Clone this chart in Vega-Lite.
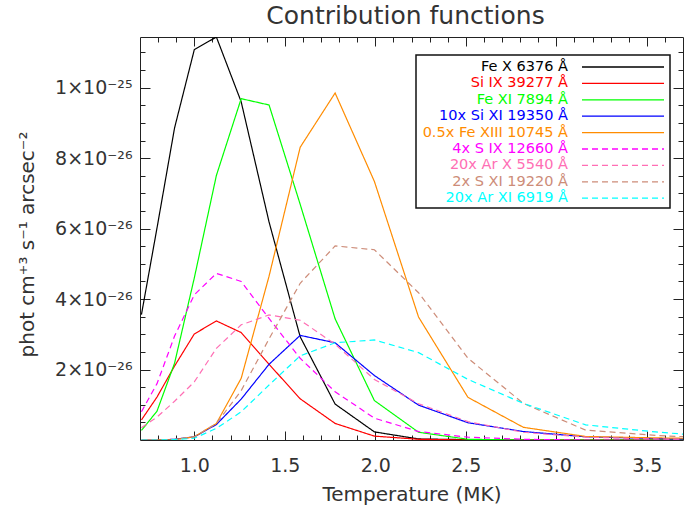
{
  "$schema": "https://vega.github.io/schema/vega-lite/v6.json",
  "autosize": "none",
  "width": 543,
  "height": 403,
  "padding": {"left": 140, "top": 37, "right": 1, "bottom": 68},
  "background": "white",
  "title": {"text": "Contribution functions", "font": "DejaVu Sans", "fontSize": 25, "fontWeight": "normal", "color": "#333", "offset": 8, "dx": -6},
  "config": {
    "view": {"stroke": "#222", "strokeWidth": 1},
    "axis": {"grid": false, "domain": false, "labelFont": "DejaVu Sans", "titleFont": "DejaVu Sans", "labelColor": "#333", "titleColor": "#333", "tickColor": "#222", "titleFontWeight": "normal", "tickWidth": 1},
    "legend": {"strokeWidth": 1.5}
  },
  "data": {"values": [
    {"s":"Fe X 6376 Å","T":0.708,"v":3.56e-26},{"s":"Fe X 6376 Å","T":0.794,"v":6.02e-26},{"s":"Fe X 6376 Å","T":0.891,"v":8.86e-26},{"s":"Fe X 6376 Å","T":1.0,"v":11.08e-26},{"s":"Fe X 6376 Å","T":1.122,"v":11.44e-26},{"s":"Fe X 6376 Å","T":1.259,"v":9.6e-26},{"s":"Fe X 6376 Å","T":1.413,"v":6.19e-26},{"s":"Fe X 6376 Å","T":1.585,"v":2.93e-26},{"s":"Fe X 6376 Å","T":1.778,"v":1.02e-26},{"s":"Fe X 6376 Å","T":1.995,"v":0.23e-26},{"s":"Fe X 6376 Å","T":2.239,"v":0.03e-26},{"s":"Fe X 6376 Å","T":2.512,"v":0.01e-26},{"s":"Fe X 6376 Å","T":2.818,"v":0},{"s":"Fe X 6376 Å","T":3.162,"v":0},{"s":"Fe X 6376 Å","T":3.548,"v":0},{"s":"Fe X 6376 Å","T":3.981,"v":0},
    {"s":"Si IX 39277 Å","T":0.708,"v":0.57e-26},{"s":"Si IX 39277 Å","T":0.794,"v":1.22e-26},{"s":"Si IX 39277 Å","T":0.891,"v":2.1e-26},{"s":"Si IX 39277 Å","T":1.0,"v":3.01e-26},{"s":"Si IX 39277 Å","T":1.122,"v":3.38e-26},{"s":"Si IX 39277 Å","T":1.259,"v":3.05e-26},{"s":"Si IX 39277 Å","T":1.413,"v":2.15e-26},{"s":"Si IX 39277 Å","T":1.585,"v":1.17e-26},{"s":"Si IX 39277 Å","T":1.778,"v":0.47e-26},{"s":"Si IX 39277 Å","T":1.995,"v":0.11e-26},{"s":"Si IX 39277 Å","T":2.239,"v":0.02e-26},{"s":"Si IX 39277 Å","T":2.512,"v":0},{"s":"Si IX 39277 Å","T":2.818,"v":0},{"s":"Si IX 39277 Å","T":3.162,"v":0},{"s":"Si IX 39277 Å","T":3.548,"v":0},{"s":"Si IX 39277 Å","T":3.981,"v":0},
    {"s":"Fe XI 7894 Å","T":0.708,"v":0.27e-26},{"s":"Fe XI 7894 Å","T":0.794,"v":0.82e-26},{"s":"Fe XI 7894 Å","T":0.891,"v":2.18e-26},{"s":"Fe XI 7894 Å","T":1.0,"v":4.6e-26},{"s":"Fe XI 7894 Å","T":1.122,"v":7.51e-26},{"s":"Fe XI 7894 Å","T":1.259,"v":9.69e-26},{"s":"Fe XI 7894 Å","T":1.413,"v":9.51e-26},{"s":"Fe XI 7894 Å","T":1.585,"v":6.69e-26},{"s":"Fe XI 7894 Å","T":1.778,"v":3.44e-26},{"s":"Fe XI 7894 Å","T":1.995,"v":1.12e-26},{"s":"Fe XI 7894 Å","T":2.239,"v":0.22e-26},{"s":"Fe XI 7894 Å","T":2.512,"v":0.02e-26},{"s":"Fe XI 7894 Å","T":2.818,"v":0},{"s":"Fe XI 7894 Å","T":3.162,"v":0},{"s":"Fe XI 7894 Å","T":3.548,"v":0},{"s":"Fe XI 7894 Å","T":3.981,"v":0},
    {"s":"10x Si XI 19350 Å","T":0.708,"v":0},{"s":"10x Si XI 19350 Å","T":0.794,"v":0},{"s":"10x Si XI 19350 Å","T":0.891,"v":0.02e-26},{"s":"10x Si XI 19350 Å","T":1.0,"v":0.09e-26},{"s":"10x Si XI 19350 Å","T":1.122,"v":0.44e-26},{"s":"10x Si XI 19350 Å","T":1.259,"v":1.16e-26},{"s":"10x Si XI 19350 Å","T":1.413,"v":2.15e-26},{"s":"10x Si XI 19350 Å","T":1.585,"v":2.97e-26},{"s":"10x Si XI 19350 Å","T":1.778,"v":2.76e-26},{"s":"10x Si XI 19350 Å","T":1.995,"v":1.83e-26},{"s":"10x Si XI 19350 Å","T":2.239,"v":0.99e-26},{"s":"10x Si XI 19350 Å","T":2.512,"v":0.49e-26},{"s":"10x Si XI 19350 Å","T":2.818,"v":0.24e-26},{"s":"10x Si XI 19350 Å","T":3.162,"v":0.09e-26},{"s":"10x Si XI 19350 Å","T":3.548,"v":0.04e-26},{"s":"10x Si XI 19350 Å","T":3.981,"v":0.01e-26},
    {"s":"0.5x Fe XIII 10745 Å","T":0.708,"v":0},{"s":"0.5x Fe XIII 10745 Å","T":0.794,"v":0},{"s":"0.5x Fe XIII 10745 Å","T":0.891,"v":0.01e-26},{"s":"0.5x Fe XIII 10745 Å","T":1.0,"v":0.09e-26},{"s":"0.5x Fe XIII 10745 Å","T":1.122,"v":0.47e-26},{"s":"0.5x Fe XIII 10745 Å","T":1.259,"v":1.75e-26},{"s":"0.5x Fe XIII 10745 Å","T":1.413,"v":4.65e-26},{"s":"0.5x Fe XIII 10745 Å","T":1.585,"v":8.31e-26},{"s":"0.5x Fe XIII 10745 Å","T":1.778,"v":9.85e-26},{"s":"0.5x Fe XIII 10745 Å","T":1.995,"v":7.34e-26},{"s":"0.5x Fe XIII 10745 Å","T":2.239,"v":3.49e-26},{"s":"0.5x Fe XIII 10745 Å","T":2.512,"v":1.21e-26},{"s":"0.5x Fe XIII 10745 Å","T":2.818,"v":0.36e-26},{"s":"0.5x Fe XIII 10745 Å","T":3.162,"v":0.1e-26},{"s":"0.5x Fe XIII 10745 Å","T":3.548,"v":0.06e-26},{"s":"0.5x Fe XIII 10745 Å","T":3.981,"v":0.03e-26},
    {"s":"4x S IX 12660 Å","T":0.708,"v":0.8e-26},{"s":"4x S IX 12660 Å","T":0.794,"v":1.6e-26},{"s":"4x S IX 12660 Å","T":0.891,"v":2.95e-26},{"s":"4x S IX 12660 Å","T":1.0,"v":4.12e-26},{"s":"4x S IX 12660 Å","T":1.122,"v":4.73e-26},{"s":"4x S IX 12660 Å","T":1.259,"v":4.5e-26},{"s":"4x S IX 12660 Å","T":1.413,"v":3.45e-26},{"s":"4x S IX 12660 Å","T":1.585,"v":2.32e-26},{"s":"4x S IX 12660 Å","T":1.778,"v":1.37e-26},{"s":"4x S IX 12660 Å","T":1.995,"v":0.62e-26},{"s":"4x S IX 12660 Å","T":2.239,"v":0.24e-26},{"s":"4x S IX 12660 Å","T":2.512,"v":0.08e-26},{"s":"4x S IX 12660 Å","T":2.818,"v":0.02e-26},{"s":"4x S IX 12660 Å","T":3.162,"v":0},{"s":"4x S IX 12660 Å","T":3.548,"v":0},{"s":"4x S IX 12660 Å","T":3.981,"v":0},
    {"s":"20x Ar X 5540 Å","T":0.708,"v":0.35e-26},{"s":"20x Ar X 5540 Å","T":0.794,"v":0.65e-26},{"s":"20x Ar X 5540 Å","T":0.891,"v":1.1e-26},{"s":"20x Ar X 5540 Å","T":1.0,"v":1.65e-26},{"s":"20x Ar X 5540 Å","T":1.122,"v":2.6e-26},{"s":"20x Ar X 5540 Å","T":1.259,"v":3.27e-26},{"s":"20x Ar X 5540 Å","T":1.413,"v":3.55e-26},{"s":"20x Ar X 5540 Å","T":1.585,"v":3.4e-26},{"s":"20x Ar X 5540 Å","T":1.778,"v":2.72e-26},{"s":"20x Ar X 5540 Å","T":1.995,"v":1.72e-26},{"s":"20x Ar X 5540 Å","T":2.239,"v":1.03e-26},{"s":"20x Ar X 5540 Å","T":2.512,"v":0.52e-26},{"s":"20x Ar X 5540 Å","T":2.818,"v":0.22e-26},{"s":"20x Ar X 5540 Å","T":3.162,"v":0.08e-26},{"s":"20x Ar X 5540 Å","T":3.548,"v":0.03e-26},{"s":"20x Ar X 5540 Å","T":3.981,"v":0.01e-26},
    {"s":"2x S XI 19220 Å","T":0.708,"v":0},{"s":"2x S XI 19220 Å","T":0.794,"v":0},{"s":"2x S XI 19220 Å","T":0.891,"v":0.02e-26},{"s":"2x S XI 19220 Å","T":1.0,"v":0.09e-26},{"s":"2x S XI 19220 Å","T":1.122,"v":0.47e-26},{"s":"2x S XI 19220 Å","T":1.259,"v":1.4e-26},{"s":"2x S XI 19220 Å","T":1.413,"v":2.87e-26},{"s":"2x S XI 19220 Å","T":1.585,"v":4.45e-26},{"s":"2x S XI 19220 Å","T":1.778,"v":5.51e-26},{"s":"2x S XI 19220 Å","T":1.995,"v":5.4e-26},{"s":"2x S XI 19220 Å","T":2.239,"v":4.18e-26},{"s":"2x S XI 19220 Å","T":2.512,"v":2.32e-26},{"s":"2x S XI 19220 Å","T":2.818,"v":1.04e-26},{"s":"2x S XI 19220 Å","T":3.162,"v":0.28e-26},{"s":"2x S XI 19220 Å","T":3.548,"v":0.13e-26},{"s":"2x S XI 19220 Å","T":3.981,"v":0.03e-26},
    {"s":"20x Ar XI 6919 Å","T":0.708,"v":0},{"s":"20x Ar XI 6919 Å","T":0.794,"v":0},{"s":"20x Ar XI 6919 Å","T":0.891,"v":0.01e-26},{"s":"20x Ar XI 6919 Å","T":1.0,"v":0.05e-26},{"s":"20x Ar XI 6919 Å","T":1.122,"v":0.33e-26},{"s":"20x Ar XI 6919 Å","T":1.259,"v":0.8e-26},{"s":"20x Ar XI 6919 Å","T":1.413,"v":1.56e-26},{"s":"20x Ar XI 6919 Å","T":1.585,"v":2.39e-26},{"s":"20x Ar XI 6919 Å","T":1.778,"v":2.76e-26},{"s":"20x Ar XI 6919 Å","T":1.995,"v":2.84e-26},{"s":"20x Ar XI 6919 Å","T":2.239,"v":2.48e-26},{"s":"20x Ar XI 6919 Å","T":2.512,"v":1.72e-26},{"s":"20x Ar XI 6919 Å","T":2.818,"v":1.04e-26},{"s":"20x Ar XI 6919 Å","T":3.162,"v":0.43e-26},{"s":"20x Ar XI 6919 Å","T":3.548,"v":0.23e-26},{"s":"20x Ar XI 6919 Å","T":3.981,"v":0.05e-26}
  ]},
  "resolve": {"axis": {"x": "independent", "y": "independent"}},
  "layer": [
    {
      "mark": {"type": "line", "clip": true, "strokeWidth": 1.2},
      "encoding": {
        "x": {"field": "T", "type": "quantitative", "scale": {"domain": [0.7, 3.7], "nice": false, "zero": false},
          "axis": {"orient": "bottom", "values": [1, 1.5, 2, 2.5, 3, 3.5], "format": ".1f", "ticks": false, "tickSize": 0, "labelPadding": 16, "labelFontSize": 19, "labelFlush": false, "title": "Temperature (MK)", "titleFontSize": 20, "titleBaseline": "alphabetic", "titleY": 60}},
        "y": {"field": "v", "type": "quantitative", "scale": {"domain": [0, 1.144e-25], "nice": false, "zero": false},
          "axis": {"orient": "left", "values": [2e-26, 4e-26, 6e-26, 8e-26, 1e-25], "labelExpr": "datum.value > 9e-26 ? '1×10⁻²⁵' : format(datum.value * 1e26, 'd') + '×10⁻²⁶'", "ticks": false, "tickSize": 0, "labelPadding": 8, "labelFontSize": 19, "labelFlush": false, "title": "phot cm⁺³ s⁻¹ arcsec⁻²", "titleFontSize": 20, "titleBaseline": "alphabetic", "titleX": -107, "titleY": 207}},
        "color": {"field": "s", "type": "nominal",
          "scale": {"domain": ["Fe X 6376 Å", "Si IX 39277 Å", "Fe XI 7894 Å", "10x Si XI 19350 Å", "0.5x Fe XIII 10745 Å", "4x S IX 12660 Å", "20x Ar X 5540 Å", "2x S XI 19220 Å", "20x Ar XI 6919 Å"],
            "range": ["#000000", "#FF0000", "#00FF00", "#0000FF", "#FF8C00", "#FF00FF", "#FF6EB4", "#CD8C78", "#00FFFF"]},
          "legend": {"orient": "none", "legendX": 276, "legendY": 18, "title": null, "direction": "vertical",
            "symbolType": "M -5.125 0 L 5.125 0", "symbolSize": 256, "symbolStrokeWidth": 1.3, "symbolOffset": 195,
            "labelOffset": -64, "labelAlign": "right", "labelFont": "DejaVu Sans", "labelFontSize": 14.5, "labelLimit": 400,
            "rowPadding": 0.4, "padding": 3, "strokeColor": "#111", "fillColor": "white",
            "encode": {"labels": {"update": {"fill": {"scale": "color", "field": "value"}}}}}},
        "strokeDash": {"field": "s", "type": "nominal",
          "scale": {"domain": ["Fe X 6376 Å", "Si IX 39277 Å", "Fe XI 7894 Å", "10x Si XI 19350 Å", "0.5x Fe XIII 10745 Å", "4x S IX 12660 Å", "20x Ar X 5540 Å", "2x S XI 19220 Å", "20x Ar XI 6919 Å"],
            "range": [[1, 0], [1, 0], [1, 0], [1, 0], [1, 0], [6, 4], [6, 4], [6, 4], [6, 4]]}}
      }
    },
    {
      "data": {"values": []},
      "mark": "point",
      "encoding": {
        "x": {"field": "T", "type": "quantitative", "scale": {"domain": [0.7, 3.7], "nice": false, "zero": false},
          "axis": {"orient": "bottom", "values": [1, 1.5, 2, 2.5, 3, 3.5], "labels": false, "tickSize": -9, "title": null}},
        "y": {"field": "v", "type": "quantitative", "scale": {"domain": [0, 1.144e-25], "nice": false, "zero": false},
          "axis": {"orient": "left", "values": [2e-26, 4e-26, 6e-26, 8e-26, 1e-25], "labels": false, "tickSize": -10, "title": null}}
      }
    },
    {
      "data": {"values": []},
      "mark": "point",
      "encoding": {
        "x": {"field": "T", "type": "quantitative", "scale": {"domain": [0.7, 3.7], "nice": false, "zero": false},
          "axis": {"orient": "bottom", "values": [0.8, 0.9, 1.1, 1.2, 1.3, 1.4, 1.6, 1.7, 1.8, 1.9, 2.1, 2.2, 2.3, 2.4, 2.6, 2.7, 2.8, 2.9, 3.1, 3.2, 3.3, 3.4, 3.6], "labels": false, "tickSize": -5, "title": null}},
        "y": {"field": "v", "type": "quantitative", "scale": {"domain": [0, 1.144e-25], "nice": false, "zero": false},
          "axis": {"orient": "left", "values": [0.5e-26, 1e-26, 1.5e-26, 2.5e-26, 3e-26, 3.5e-26, 4.5e-26, 5e-26, 5.5e-26, 6.5e-26, 7e-26, 7.5e-26, 8.5e-26, 9e-26, 9.5e-26, 10.5e-26, 11e-26], "labels": false, "tickSize": -5, "title": null}}
      }
    },
    {
      "data": {"values": []},
      "mark": "point",
      "encoding": {
        "x": {"field": "T", "type": "quantitative", "scale": {"domain": [0.7, 3.7], "nice": false, "zero": false},
          "axis": {"orient": "top", "values": [1, 1.5, 2, 2.5, 3, 3.5], "labels": false, "tickSize": -9, "title": null}},
        "y": {"field": "v", "type": "quantitative", "scale": {"domain": [0, 1.144e-25], "nice": false, "zero": false},
          "axis": {"orient": "right", "values": [2e-26, 4e-26, 6e-26, 8e-26, 1e-25], "labels": false, "tickSize": -10, "title": null}}
      }
    },
    {
      "data": {"values": []},
      "mark": "point",
      "encoding": {
        "x": {"field": "T", "type": "quantitative", "scale": {"domain": [0.7, 3.7], "nice": false, "zero": false},
          "axis": {"orient": "top", "values": [0.8, 0.9, 1.1, 1.2, 1.3, 1.4, 1.6, 1.7, 1.8, 1.9, 2.1, 2.2, 2.3, 2.4, 2.6, 2.7, 2.8, 2.9, 3.1, 3.2, 3.3, 3.4, 3.6], "labels": false, "tickSize": -5, "title": null}},
        "y": {"field": "v", "type": "quantitative", "scale": {"domain": [0, 1.144e-25], "nice": false, "zero": false},
          "axis": {"orient": "right", "values": [0.5e-26, 1e-26, 1.5e-26, 2.5e-26, 3e-26, 3.5e-26, 4.5e-26, 5e-26, 5.5e-26, 6.5e-26, 7e-26, 7.5e-26, 8.5e-26, 9e-26, 9.5e-26, 10.5e-26, 11e-26], "labels": false, "tickSize": -5, "title": null}}
      }
    }
  ]
}
